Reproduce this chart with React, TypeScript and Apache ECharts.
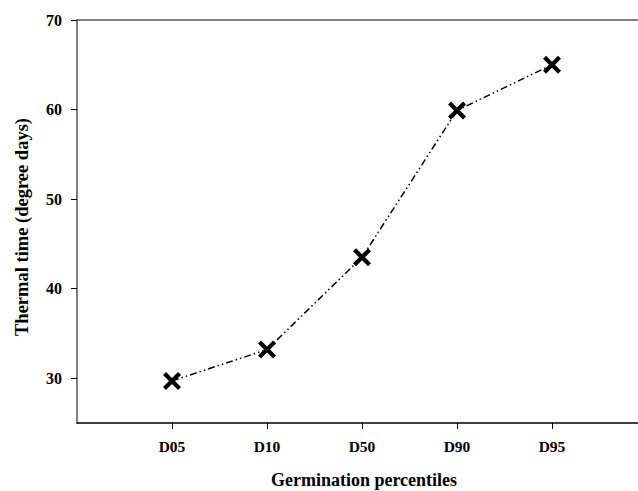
import React, { useEffect, useRef } from "react";
import * as echarts from "echarts";

const categories = ["D05", "D10", "D50", "D90", "D95"];
const thermalTime = [29.7, 33.2, 43.5, 59.9, 65.0];
const yTicks = [30, 40, 50, 60, 70];
const xTitle = "Germination percentiles";
const yTitle = "Thermal time (degree days)";

const FONT = "'Liberation Serif', 'Times New Roman', serif";
const X_SYMBOL =
  "path://M0,3 L3,0 L9,6 L15,0 L18,3 L12,9 L18,15 L15,18 L9,12 L3,18 L0,15 L6,9 Z";

export default function App() {
  const ref = useRef<HTMLDivElement>(null);
  useEffect(() => {
    if (!ref.current) return;
    const chart = echarts.init(ref.current, null, { renderer: "svg" });
    const positions = categories.map((_, i) => i + 1);
    chart.setOption({
      animation: false,
      backgroundColor: "#ffffff",
      grid: { left: 77, right: 0, top: 20, bottom: 68, containLabel: false },
      xAxis: [
        {
          type: "value",
          min: 0,
          max: 5.905,
          axisLine: { show: true, lineStyle: { color: "#000", width: 1.5 } },
          axisTick: {
            show: true,
            inside: false,
            length: 6,
            customValues: positions,
            lineStyle: { color: "#000", width: 1 },
          },
          axisLabel: {
            customValues: positions,
            margin: 15,
            formatter: (v: number) => categories[Math.round(v) - 1] ?? "",
            color: "#000",
            fontFamily: FONT,
            fontWeight: "bold",
            fontSize: 15.5,
          },
          splitLine: { show: false },
        },
        {
          type: "value",
          position: "top",
          min: 0,
          max: 5.905,
          axisLine: { show: true, onZero: false, lineStyle: { color: "#555", width: 1.5 } },
          axisTick: { show: false },
          axisLabel: { show: false },
          splitLine: { show: false },
        },
      ],
      yAxis: {
        type: "value",
        min: 25,
        max: 70,
        axisLine: { show: true, onZero: false, lineStyle: { color: "#555", width: 1.5 } },
        axisTick: {
          show: true,
          length: 6,
          customValues: yTicks,
          lineStyle: { color: "#000", width: 1 },
        },
        axisLabel: {
          customValues: yTicks,
          margin: 15,
          color: "#000",
          fontFamily: FONT,
          fontWeight: "bold",
          fontSize: 16,
        },
        splitLine: { show: false },
      },
      graphic: [
        {
          type: "text",
          x: 22,
          y: 227,
          rotation: Math.PI / 2,
          style: {
            text: yTitle,
            fontFamily: FONT,
            fontWeight: "bold",
            fontSize: 18.5,
            fill: "#000",
            textAlign: "center",
            textVerticalAlign: "middle",
          },
        },
        {
          type: "text",
          x: 364,
          y: 480,
          style: {
            text: xTitle,
            fontFamily: FONT,
            fontWeight: "bold",
            fontSize: 18,
            fill: "#000",
            textAlign: "center",
            textVerticalAlign: "middle",
          },
        },
      ],
      series: [
        {
          type: "line",
          data: thermalTime.map((v, i) => [positions[i], v]),
          symbol: X_SYMBOL,
          symbolSize: 18,
          itemStyle: { color: "#000" },
          lineStyle: { color: "#000", width: 1.5, type: [7, 3, 1.5, 3, 1.5, 3] },
        },
      ],
    });
    return () => chart.dispose();
  }, []);
  return (
    <div
      ref={ref}
      style={{ position: "fixed", left: 0, top: 0, width: 638, height: 491 }}
    />
  );
}
